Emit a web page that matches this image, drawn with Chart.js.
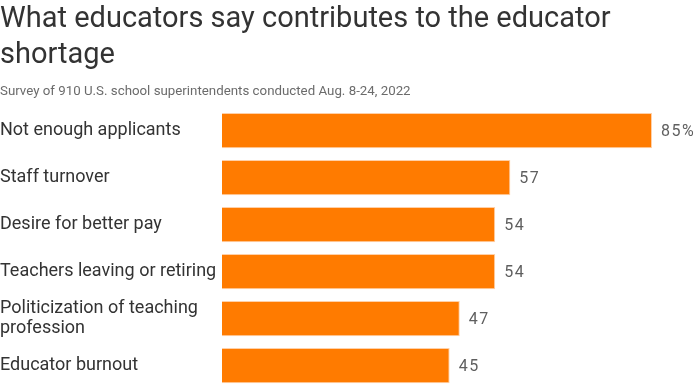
<!DOCTYPE html>
<html>
<head>
<meta charset="utf-8">
<script src="https://cdn.jsdelivr.net/npm/chart.js@4.4.0/dist/chart.umd.min.js"></script>
<style>
  html, body { margin: 0; padding: 0; background: #fff; }
  #wrap { width: 696px; height: 391px; position: relative; font-family: Roboto, sans-serif; }
  #wrap canvas { position: absolute; left: 0; top: 0; }
  .title {
    position: absolute; left: 0; top: -1px; white-space: nowrap;
    font-size: 29px; line-height: 36px; color: #333;
  }
  .subtitle {
    position: absolute; left: 0; top: 83px; white-space: nowrap;
    font-size: 13.3px; line-height: 16px; color: #6b6b6b;
  }
</style>
</head>
<body>
<div id="wrap">
  <canvas id="chart" width="696" height="391"></canvas>
  <div class="title" id="title"></div>
  <div class="subtitle" id="subtitle"></div>
</div>
<script>
// data
const categories = [
  "Not enough applicants",
  "Staff turnover",
  "Desire for better pay",
  "Teachers leaving or retiring",
  ["Politicization of teaching", "profession"],
  "Educator burnout",
];
const values = [85, 57, 54, 54, 47, 45];
const valueLabels = ["85%", "57", "54", "54", "47", "45"];

const titleLines = ["What educators say contributes to the educator", "shortage"];
const subtitleText = "Survey of 910 U.S. school superintendents conducted Aug. 8-24, 2022";

document.getElementById("title").innerHTML = titleLines.join("<br>");
document.getElementById("subtitle").textContent = subtitleText;

const ORANGE = "#ff7b00";
const FONT = "Roboto, sans-serif";

// draws the value at the end of each bar
const endLabels = {
  id: "endLabels",
  afterDatasetsDraw(chart) {
    const ctx = chart.ctx;
    const meta = chart.getDatasetMeta(0);
    ctx.save();
    ctx.fillStyle = "#5f5f5f";
    ctx.font = "16px " + FONT;
    ctx.textBaseline = "middle";
    ctx.letterSpacing = "1.5px";
    meta.data.forEach((bar, i) => {
      ctx.fillText(valueLabels[i], bar.x + 9, bar.y + 1);
    });
    ctx.restore();
  },
};

new Chart(document.getElementById("chart"), {
  type: "bar",
  data: {
    labels: categories,
    datasets: [{
      data: values,
      backgroundColor: ORANGE,
      borderColor: "#ffd0a8",
      borderWidth: 1,
      categoryPercentage: 1,
      barPercentage: 0.75,
    }],
  },
  options: {
    responsive: false,
    indexAxis: "y",
    animation: false,
    layout: { padding: { left: 0, right: 44, top: 107, bottom: 2 } },
    plugins: {
      legend: { display: false },
      tooltip: { enabled: false },
    },
    scales: {
      x: { display: false, min: 0, max: 85 },
      y: {
        grid: { display: false },
        border: { display: false },
        afterFit(axis) {
          axis.width = 222;
          axis.paddingTop = 0;
          axis.paddingBottom = 0;
        },
        ticks: {
          crossAlign: "far", color: "#333", padding: 0,
          font: { family: FONT, size: 18, lineHeight: 1.15 },
        },
      },
    },
  },
  plugins: [endLabels],
});
</script>
</body>
</html>
